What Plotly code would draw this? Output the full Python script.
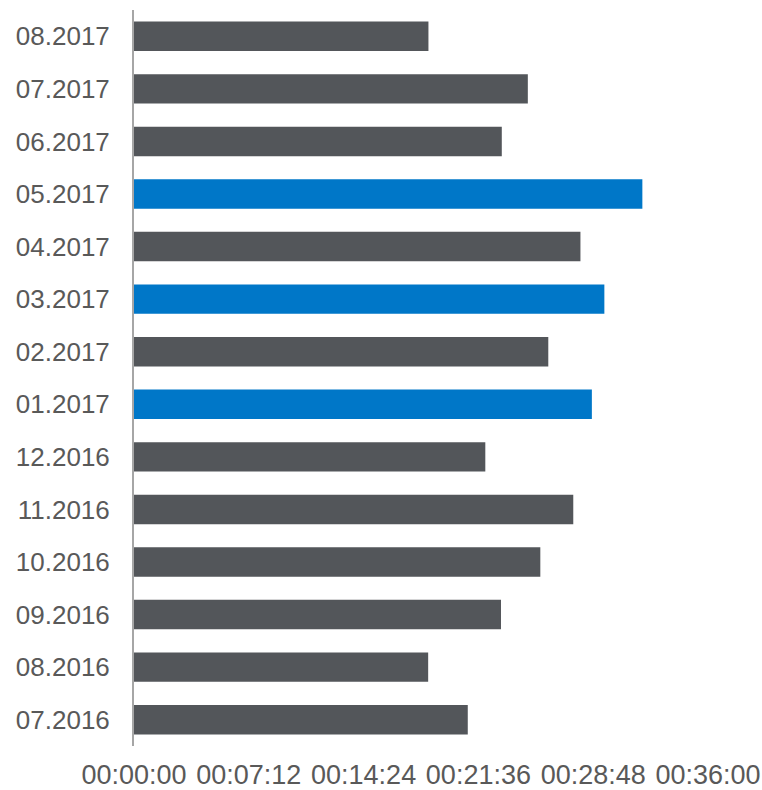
import plotly.graph_objects as go

months = ["07.2016", "08.2016", "09.2016", "10.2016", "11.2016", "12.2016",
          "01.2017", "02.2017", "03.2017", "04.2017", "05.2017", "06.2017",
          "07.2017", "08.2017"]
durations = ["00:20:56", "00:18:27", "00:23:01", "00:25:29", "00:27:33", "00:22:02",
             "00:28:43", "00:25:59", "00:29:30", "00:28:00", "00:31:53", "00:23:04",
             "00:24:42", "00:18:28"]
highlighted = ["01.2017", "03.2017", "05.2017"]
tick_labels = ["00:00:00", "00:07:12", "00:14:24", "00:21:36", "00:28:48", "00:36:00"]


def to_seconds(s):
    h, m, sec = (int(p) for p in s.split(":"))
    return h * 3600 + m * 60 + sec


values = [to_seconds(d) for d in durations]
tick_vals = [to_seconds(t) for t in tick_labels]

GREY = "#53565A"
BLUE = "#0077C8"
colors = [BLUE if m in highlighted else GREY for m in months]

fig = go.Figure(go.Bar(
    x=values, y=months, orientation="h",
    marker=dict(color=colors, line=dict(width=0)),
    hovertext=durations, hoverinfo="y+text",
))

fig.update_layout(
    width=762, height=790,
    margin=dict(l=134, r=54, t=10, b=44),
    paper_bgcolor="white", plot_bgcolor="white",
    bargap=0.44,
    showlegend=False,
    font=dict(family="Liberation Sans, Arial, sans-serif", size=26, color="#595959"),
)
fig.update_xaxes(
    range=[0, tick_vals[-1]],
    tickvals=tick_vals, ticktext=tick_labels,
    showgrid=False, zeroline=False, showline=False,
    ticks="", ticklabelstandoff=10, automargin=False,
    tickfont=dict(size=27, color="#595959"),
)
fig.update_yaxes(
    type="category",
    showgrid=False, zeroline=False,
    showline=True, linecolor="#A6A6A6", linewidth=2,
    ticks="", ticklabelstandoff=17, automargin=False,
    tickfont=dict(size=26, color="#595959"),
)

fig.write_html(
    "out.html",
    config={"displayModeBar": False},
    post_script="document.body.style.margin='0';document.body.style.overflow='hidden';",
)
